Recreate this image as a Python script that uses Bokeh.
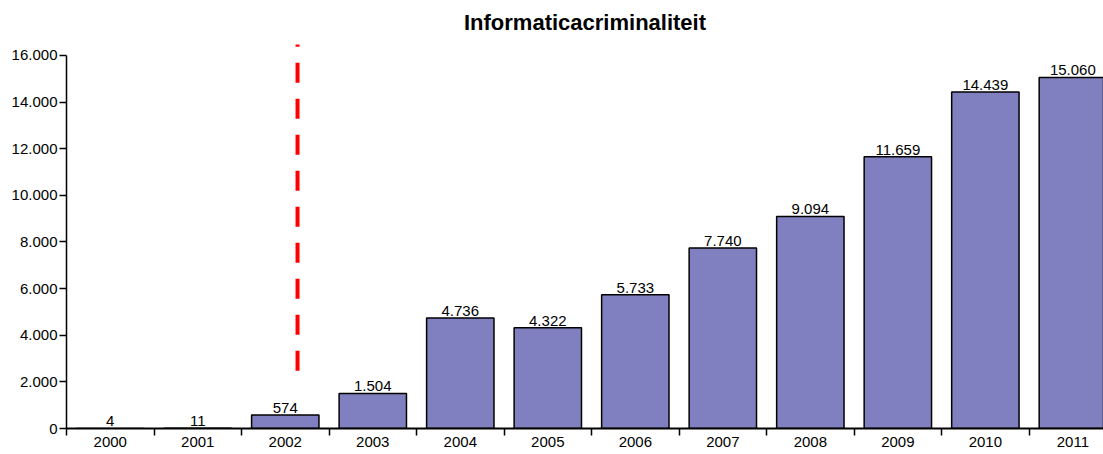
from bokeh.plotting import figure
from bokeh.models import ColumnDataSource, FixedTicker, Range1d, LabelSet
from bokeh.core.properties import value
from bokeh.embed import file_html
from bokeh.resources import INLINE

years = ["2000", "2001", "2002", "2003", "2004", "2005", "2006", "2007", "2008", "2009", "2010", "2011"]
counts = [4, 11, 574, 1504, 4736, 4322, 5733, 7740, 9094, 11659, 14439, 15060]
labels = ["4", "11", "574", "1.504", "4.736", "4.322", "5.733", "7.740", "9.094", "11.659", "14.439", "15.060"]
y_ticks = [0, 2000, 4000, 6000, 8000, 10000, 12000, 14000, 16000]
y_tick_labels = ["0", "2.000", "4.000", "6.000", "8.000", "10.000", "12.000", "14.000", "16.000"]

# marker line (reference annotation)
marker_x = 2.14
marker_y = (2480, 16470)

xs = list(range(len(years)))
src = ColumnDataSource(dict(x=xs, top=counts, label=labels))

p = figure(width=1103, height=454, output_backend="svg", toolbar_location=None,
           x_range=Range1d(-0.5, 11.35), y_range=Range1d(0, 16600),
           min_border_left=66, min_border_right=0, min_border_top=40, min_border_bottom=26,
           title="Informaticacriminaliteit")
p.title.align = "center"
p.title.text_font = "Liberation Sans"
p.title.text_font_size = "22px"
p.title.text_font_style = "bold"
p.title.text_color = "black"
p.title.standoff = 14
p.outline_line_color = None
p.grid.visible = False

p.vbar(x="x", top="top", width=0.77, source=src, fill_color="#8080C0",
       line_color="black", line_width=1.5)

p.add_layout(LabelSet(x="x", y="top", text="label", source=src, text_align="center",
                      text_baseline="bottom", y_offset=2, text_font=value("Liberation Sans"),
                      text_font_size="15px", text_color="black"))

p.segment(x0=[marker_x], y0=[marker_y[0]], x1=[marker_x], y1=[marker_y[1]],
          line_color="red", line_width=4, line_dash="20 16")

# x axis
p.xaxis.ticker = FixedTicker(ticks=xs, minor_ticks=[i - 0.5 for i in range(len(years) + 1)])
p.xaxis.major_label_overrides = {i: y for i, y in enumerate(years)}
p.xaxis.major_tick_out = 0
p.xaxis.major_tick_in = 0
p.xaxis.minor_tick_out = 7
p.xaxis.minor_tick_in = 0
p.xaxis.minor_tick_line_color = "black"
p.xaxis.minor_tick_line_width = 1.5
p.xaxis.axis_line_width = 2
p.xaxis.axis_line_color = "black"
p.xaxis.major_label_text_font = "Liberation Sans"
p.xaxis.major_label_text_font_size = "15px"
p.xaxis.major_label_text_color = "black"
p.xaxis.major_label_standoff = 1

# y axis
p.yaxis.ticker = FixedTicker(ticks=y_ticks, minor_ticks=[])
p.yaxis.major_label_overrides = {t: l for t, l in zip(y_ticks, y_tick_labels)}
p.yaxis.bounds = (0, 16000)
p.yaxis.major_tick_out = 7
p.yaxis.major_tick_in = 0
p.yaxis.major_tick_line_width = 1.5
p.yaxis.axis_line_width = 1.5
p.yaxis.axis_line_color = "black"
p.yaxis.major_label_text_font = "Liberation Sans"
p.yaxis.major_label_text_font_size = "15px"
p.yaxis.major_label_text_color = "black"
p.yaxis.major_label_standoff = 2

open("out.html", "w").write(file_html(p, INLINE))
